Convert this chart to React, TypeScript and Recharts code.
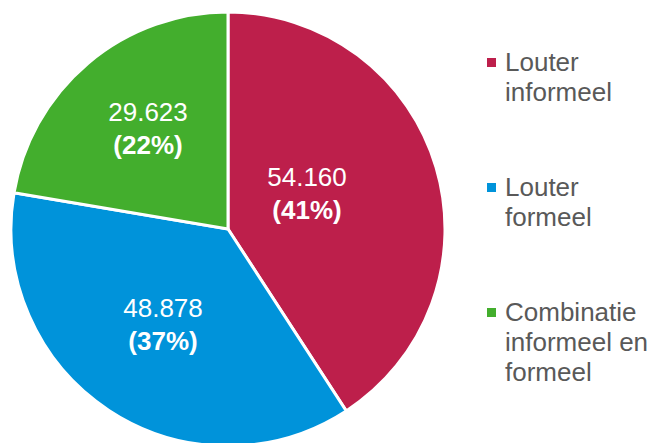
import React from "react";
import { PieChart, Pie, Cell, Legend } from "recharts";

const categories = ["Louter informeel", "Louter formeel", "Combinatie informeel en formeel"];
const values = [54160, 48878, 29623];
const valueLabels = ["54.160", "48.878", "29.623"];
const percentLabels = ["(41%)", "(37%)", "(22%)"];
const legendLines = [["Louter", "informeel"], ["Louter", "formeel"], ["Combinatie", "informeel en", "formeel"]];

const COLORS = ["#BD1F4B", "#0093DA", "#43AE2D"];
const LABEL_OFFSETS = [
  { dx: 79, dy: -36 },
  { dx: -65, dy: 95 },
  { dx: -80, dy: -101 },
];
const FONT = "'Liberation Sans', Arial, sans-serif";

const data = categories.map((name, i) => ({ name, value: values[i] }));

const renderLabel = (props: any) => {
  const { cx, cy, index } = props;
  const o = LABEL_OFFSETS[index];
  const x = cx + o.dx;
  const y = cy + o.dy;
  return (
    <g>
      <text x={x} y={y - 16.5} textAnchor="middle" dominantBaseline="central" fill="#fff" fontSize={26} fontFamily={FONT}>
        {valueLabels[index]}
      </text>
      <text x={x} y={y + 16.5} textAnchor="middle" dominantBaseline="central" fill="#fff" fontSize={26} fontWeight="bold" fontFamily={FONT}>
        {percentLabels[index]}
      </text>
    </g>
  );
};

const LegendContent = () => (
  <div style={{ position: "relative", width: 160, height: 360, fontFamily: FONT }}>
    {legendLines.map((lines, i) => (
      <div key={i} style={{ position: "absolute", left: 0, top: i * 125, display: "flex" }}>
        <div style={{ width: 9, height: 9, background: COLORS[i], marginTop: 11, marginRight: 9 }} />
        <div style={{ fontSize: 26, lineHeight: "30px", color: "#595959" }}>
          {lines.map((l, j) => (
            <div key={j} style={{ whiteSpace: "nowrap" }}>{l}</div>
          ))}
        </div>
      </div>
    ))}
  </div>
);

export default function App() {
  return (
    <div style={{ position: "absolute", left: 0, top: 0, width: 654, height: 443, background: "#fff" }}>
      <PieChart width={654} height={443} margin={{ top: 0, right: 0, bottom: 0, left: 0 }}>
        <Pie
          data={data}
          dataKey="value"
          cx={228}
          cy={229}
          outerRadius={217}
          startAngle={90}
          endAngle={-270}
          stroke="#fff"
          strokeWidth={3}
          label={renderLabel}
          labelLine={false}
          isAnimationActive={false}
        >
          {data.map((d, i) => (
            <Cell key={d.name} fill={COLORS[i]} />
          ))}
        </Pie>
        <Legend
          layout="vertical"
          verticalAlign="top"
          align="right"
          content={<LegendContent />}
          wrapperStyle={{ position: "absolute", left: 487, top: 47, width: 167 }}
        />
      </PieChart>
    </div>
  );
}
